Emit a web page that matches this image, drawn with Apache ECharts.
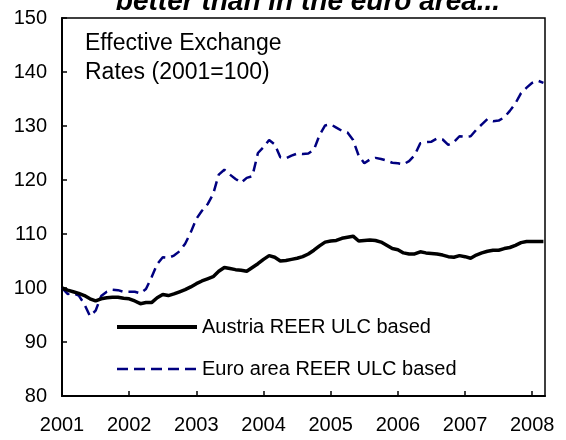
<!DOCTYPE html>
<html>
<head>
<meta charset="utf-8">
<script src="https://cdn.jsdelivr.net/npm/echarts@6/dist/echarts.min.js"></script>
<style>
  html, body { margin: 0; padding: 0; background: #fff; }
  #chart { width: 566px; height: 440px; }
</style>
</head>
<body>
<div id="chart"></div>
<script>
// monthly observations, Jan 2001 onwards
const startYear = 2001;
const yearTicks = [2001, 2002, 2003, 2004, 2005, 2006, 2007, 2008];
const seriesNames = ['Austria REER ULC based', 'Euro area REER ULC based'];

const austria = [
  100.0, 99.6, 99.3, 99.0, 98.6, 98.0, 97.6, 98.0, 98.2, 98.3, 98.3, 98.1,
  98.0, 97.6, 97.1, 97.3, 97.3, 98.2, 98.8, 98.6, 98.9, 99.3, 99.7, 100.2,
  100.8, 101.3, 101.7, 102.1, 103.1, 103.8, 103.6, 103.4, 103.3, 103.1, 103.8, 104.5,
  105.3, 106.0, 105.7, 105.0, 105.1, 105.3, 105.5, 105.8, 106.3, 107.0, 107.8, 108.5,
  108.7, 108.8, 109.2, 109.4, 109.6, 108.7, 108.8, 108.9, 108.8, 108.5, 107.9, 107.3,
  107.1, 106.5, 106.3, 106.3, 106.7, 106.5, 106.4, 106.3, 106.1, 105.8, 105.7, 106.0,
  105.8, 105.5, 106.1, 106.5, 106.8, 107.0, 107.0, 107.3, 107.5, 107.9, 108.4, 108.6,
  108.6, 108.6, 108.6
];

const euroArea = [
  100.0, 98.9, 99.0, 98.6, 97.0, 94.8, 95.8, 98.5, 99.3, 99.7, 99.6, 99.3,
  99.3, 99.3, 99.0, 99.8, 102.0, 104.4, 105.7, 105.6, 106.0, 106.8, 108.2, 110.3,
  112.8, 114.3, 115.5, 117.4, 121.0, 121.9, 121.0, 120.2, 119.5, 120.4, 120.7, 125.0,
  126.1, 127.4, 126.6, 124.2, 124.0, 124.5, 124.9, 124.8, 124.9, 125.6, 128.3, 130.1,
  130.3, 129.7, 129.1, 128.8, 127.4, 124.5, 123.1, 123.8, 124.1, 123.9, 123.6, 123.2,
  123.1, 122.9, 123.5, 124.6, 126.8, 127.0, 127.1, 127.7, 127.5, 126.5, 127.0, 128.1,
  128.0, 128.1, 129.3, 130.3, 131.3, 130.9, 131.0, 131.6, 132.8, 134.2, 136.1, 137.1,
  138.0, 138.4, 138.0
];

const toPoints = arr => arr.map((v, i) => [startYear + i / 12, v]);

const chart = echarts.init(document.getElementById('chart'));
const font = 'Arial, "Liberation Sans", sans-serif';

chart.setOption({
  animation: false,
  textStyle: { fontFamily: font },
  grid: {
    left: 62, right: 21, top: 18, bottom: 44,
    show: true, borderColor: '#000', borderWidth: 1.5
  },
  graphic: [
    {
      type: 'text', x: 308, y: 16,
      style: {
        text: 'better than in the euro area...',
        font: 'italic bold 28px ' + font,
        fill: '#000',
        textAlign: 'center', textVerticalAlign: 'bottom'
      }
    },
    {
      type: 'text', x: 85, y: 29,
      style: {
        text: 'Effective Exchange\nRates (2001=100)',
        font: '23px ' + font,
        lineHeight: 29,
        fill: '#000'
      }
    }
  ],
  legend: {
    orient: 'vertical',
    left: 110, top: 312,
    itemWidth: 80, itemHeight: 20,
    itemGap: 22,
    itemStyle: { opacity: 0 },
    textStyle: { fontSize: 20, color: '#000', fontFamily: font },
    data: [
      { name: seriesNames[0], lineStyle: { width: 4 } },
      { name: seriesNames[1], lineStyle: { width: 2.5, type: [11, 6] } }
    ]
  },
  xAxis: {
    type: 'value',
    min: 2001, max: 2008.19, interval: 1,
    splitLine: { show: false },
    axisLine: { lineStyle: { color: '#000', width: 2 } },
    axisTick: { inside: true, length: 5, lineStyle: { color: '#000', width: 1.5 } },
    axisLabel: {
      fontSize: 20, color: '#000', margin: 19,
      formatter: v => yearTicks.includes(Math.round(v)) ? String(Math.round(v)) : ''
    }
  },
  yAxis: {
    type: 'value',
    min: 80, max: 150, interval: 10,
    splitLine: { show: false },
    axisLine: { show: true, lineStyle: { color: '#000', width: 2 } },
    axisTick: { show: true, inside: true, length: 5, lineStyle: { color: '#000', width: 1.5 } },
    axisLabel: { fontSize: 20, color: '#000', margin: 15 }
  },
  series: [
    {
      name: seriesNames[0],
      type: 'line',
      data: toPoints(austria),
      symbol: 'none',
      lineStyle: { color: '#000', width: 3.5 },
      itemStyle: { color: '#000' },
      z: 3
    },
    {
      name: seriesNames[1],
      type: 'line',
      data: toPoints(euroArea),
      symbol: 'none',
      lineStyle: { color: '#000080', width: 2.5, type: [10, 6] },
      itemStyle: { color: '#000080' },
      z: 2
    }
  ]
});
</script>
</body>
</html>
